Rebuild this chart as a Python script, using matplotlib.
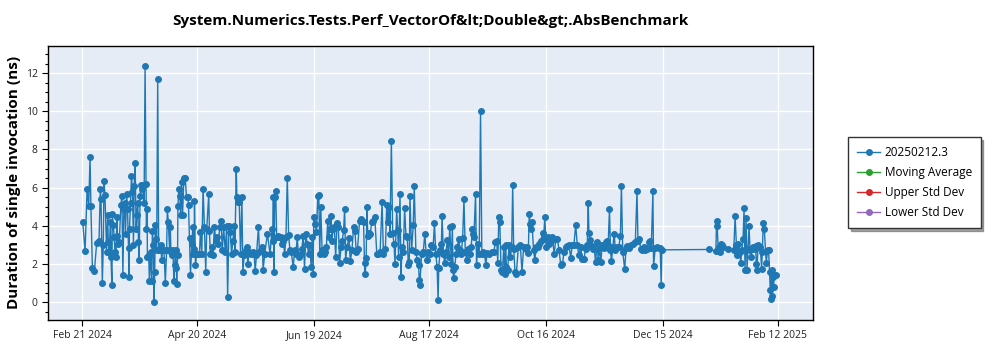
import datetime as dt
import matplotlib
matplotlib.use("Agg")
import matplotlib.pyplot as plt
import matplotlib.dates as mdates
from matplotlib.ticker import MultipleLocator

# (days after Feb 21 2024, duration in ns)
feb_apr = [(0.34, 4.18), (1.53, 2.67), (2.55, 5.92), (3.4, 5.05), (4.08, 7.62), (4.5, 5.05), (5.27, 1.81),
           (6.29, 1.61), (7.48, 3.11), (8.67, 3.2), (9.35, 5.95), (9.69, 5.43), (10.37, 1.02), (10.88, 3.0),
           (11.22, 6.35), (11.73, 5.61), (12.58, 2.64), (13.1, 4.57), (13.44, 3.14), (13.95, 2.64), (14.46, 4.18),
           (14.8, 2.36), (15.31, 0.88), (15.48, 4.62), (15.99, 4.02), (16.5, 3.4), (16.84, 2.64), (17.35, 2.36),
           (17.86, 4.45), (18.03, 3.49), (18.54, 3.06), (19.05, 3.14), (19.9, 5.09), (20.41, 5.57), (20.92, 1.4),
           (21.43, 4.88), (21.94, 5.21), (22.28, 3.58), (22.79, 5.66), (23.3, 4.88), (23.81, 2.83), (23.98, 1.32),
           (24.32, 3.83), (24.83, 5.21), (25.34, 6.61), (25.85, 5.75), (26.36, 2.99), (26.7, 6.09), (27.21, 7.28),
           (27.72, 3.83), (28.06, 4.57), (28.57, 5.21), (28.91, 3.14), (29.25, 2.19), (29.76, 5.57), (30.1, 6.12),
           (30.61, 5.92), (31.29, 6.12), (31.8, 5.21), (32.31, 12.38), (32.82, 6.18), (32.99, 3.83), (33.33, 4.88),
           (33.5, 2.36), (34.18, 2.47), (34.52, 1.09), (35.2, 2.64), (35.71, 1.09), (36.05, 3.75), (36.56, 2.99),
           (36.9, 0.02), (37.24, 1.58), (37.59, 4.05), (37.76, 3.32), (38.27, 2.71), (38.78, 11.68), (39.29, 2.71),
           (39.97, 2.71), (40.48, 2.99), (40.82, 2.19), (41.33, 2.71), (42.01, 2.71), (42.69, 1.02), (43.37, 2.71),
           (43.71, 4.88), (44.22, 4.22), (44.9, 2.71), (45.24, 3.92), (45.58, 2.64), (46.09, 2.47), (46.6, 2.71),
           (47.11, 1.09), (47.45, 1.93), (47.96, 2.71), (48.3, 1.79), (48.64, 0.97), (48.98, 2.47), (49.15, 5.02),
           (49.66, 5.92), (50.17, 5.57), (50.51, 4.57), (51.02, 6.27), (51.53, 4.57), (52.21, 6.48), (52.89, 6.51),
           (53.57, 5.49), (54.25, 5.52), (54.59, 5.09), (55.1, 3.35), (55.61, 1.44), (56.29, 3.06), (56.8, 3.92),
           (56.97, 2.5), (57.48, 2.8), (57.65, 5.28), (58.16, 1.93), (58.67, 2.5), (59.35, 2.5)]

apr_jun = [(60.2, 2.53), (60.71, 3.7), (61.39, 2.53), (62.07, 5.95), (62.76, 3.92), (63.44, 1.58), (63.95, 3.84),
           (64.97, 5.66), (65.31, 3.75), (65.82, 2.53), (66.5, 2.88), (67.18, 2.45), (67.86, 3.96), (68.54, 3.23),
           (69.22, 3.4), (69.9, 3.06), (70.58, 3.92), (71.26, 4.27), (71.94, 2.71), (72.62, 3.92), (73.47, 2.62),
           (74.15, 4.01), (74.66, 0.28), (75.34, 4.01), (76.02, 3.66), (76.7, 2.53), (77.38, 3.23), (78.06, 4.01),
           (78.4, 2.62), (79.08, 7.0), (79.42, 5.49), (79.93, 5.23), (80.61, 5.23), (81.29, 2.53), (81.97, 5.49),
           (82.48, 1.58), (83.16, 2.45), (84.01, 2.71), (84.52, 2.88), (85.03, 2.01), (85.71, 2.62), (86.56, 2.53),
           (87.59, 2.62), (88.27, 2.53), (88.78, 1.63), (89.46, 2.45), (90.48, 3.96), (90.99, 2.62), (91.84, 2.71),
           (92.52, 2.88), (92.86, 1.7), (93.71, 2.53), (95.07, 3.58), (96.43, 2.53), (97.45, 3.84), (97.79, 3.23),
           (98.13, 5.49), (98.47, 1.58), (98.81, 5.49), (99.32, 5.83), (99.83, 3.4), (100.51, 3.49), (101.19, 3.44),
           (101.87, 3.4), (102.55, 3.06), (103.23, 3.23), (103.91, 2.53), (104.59, 3.4), (105.27, 6.53),
           (105.95, 3.54), (106.63, 2.71), (107.31, 2.62), (108.33, 1.84), (109.01, 2.71), (109.69, 2.53),
           (110.37, 3.4), (111.05, 2.36), (112.07, 2.53), (112.76, 2.8), (113.44, 3.49), (114.12, 1.75), (114.8, 3.58),
           (115.48, 3.06), (116.16, 2.53), (116.84, 2.97), (117.52, 1.84), (118.03, 3.4), (118.54, 1.46),
           (118.88, 4.44), (119.56, 4.1), (120.24, 3.66), (120.92, 5.57)]

jun_aug = [(121.43, 5.61), (121.94, 2.53), (122.45, 4.97), (123.13, 2.71), (123.98, 2.53), (124.83, 2.62),
           (125.34, 2.88), (126.02, 4.27), (126.53, 3.4), (127.04, 3.84), (127.72, 4.53), (128.23, 3.23),
           (128.74, 3.84), (129.42, 3.92), (130.1, 2.36), (130.78, 4.13), (131.46, 3.92), (132.14, 2.05),
           (132.82, 2.88), (133.5, 3.23), (134.18, 3.78), (134.69, 4.88), (135.2, 2.22), (135.88, 2.88),
           (136.9, 3.37), (137.59, 2.14), (138.44, 2.71), (139.29, 3.92), (139.97, 3.75), (140.65, 2.62),
           (141.33, 2.8), (142.35, 4.27), (143.03, 4.36), (143.71, 4.27), (144.39, 4.18), (144.9, 2.05),
           (145.24, 1.46), (145.75, 2.33), (146.09, 5.0), (146.6, 3.49), (147.28, 3.61), (147.79, 3.58),
           (148.64, 4.18), (149.49, 4.27), (150.17, 4.48), (151.19, 2.53), (152.04, 2.53), (152.89, 2.62),
           (153.91, 5.23), (154.59, 2.53), (155.61, 2.8), (156.29, 5.09), (156.97, 4.18), (157.48, 5.0),
           (157.99, 3.58), (158.67, 8.44), (159.35, 3.61), (160.03, 3.06), (160.54, 2.01), (161.39, 4.88),
           (161.9, 3.78), (162.41, 2.36), (163.1, 5.66), (163.61, 1.32), (164.12, 2.88), (164.8, 2.62),
           (165.48, 4.93), (166.16, 3.49), (166.84, 3.4), (167.35, 1.93), (167.86, 2.1), (168.2, 5.57),
           (169.05, 2.71), (169.9, 4.06), (170.41, 6.09), (171.26, 2.62), (171.94, 2.22), (172.62, 1.93),
           (172.96, 1.15), (173.3, 0.89), (174.15, 2.53), (175.0, 2.62), (175.85, 3.58), (176.7, 2.22),
           (177.55, 2.62), (178.4, 2.53), (179.25, 3.02), (180.1, 2.88), (180.78, 4.13), (181.46, 2.53),
           (182.14, 1.84)]

aug_oct = [(182.65, 0.1), (182.99, 1.81), (183.67, 2.71), (184.35, 3.06), (184.69, 4.5), (185.37, 2.53),
           (186.05, 2.05), (186.73, 2.62), (187.41, 3.26), (188.1, 2.36), (188.61, 3.96), (189.46, 2.01),
           (189.97, 3.99), (190.31, 1.67), (190.65, 1.28), (191.16, 1.84), (191.84, 2.53), (192.52, 2.88),
           (193.2, 3.32), (193.88, 2.71), (194.56, 2.53), (195.24, 3.37), (195.92, 5.4), (196.6, 2.62),
           (197.28, 2.22), (197.96, 2.8), (198.81, 2.53), (199.66, 2.88), (200.17, 3.84), (200.68, 3.58),
           (201.02, 3.4), (201.87, 5.66), (202.38, 1.93), (203.06, 3.06), (203.74, 2.53), (204.42, 10.0),
           (205.1, 2.53), (205.78, 2.62), (206.46, 2.53), (207.14, 1.96), (207.82, 2.57), (209.01, 2.53),
           (210.2, 2.62), (211.22, 2.62), (212.07, 3.14), (212.76, 3.19), (213.27, 2.05), (213.78, 4.44),
           (214.29, 4.18), (214.97, 1.67), (215.65, 1.58), (216.33, 2.88), (216.84, 1.49), (217.35, 3.02),
           (217.69, 1.84), (218.37, 1.67), (219.05, 3.02), (219.73, 2.36), (220.41, 2.88), (220.92, 6.13),
           (221.43, 2.8), (222.11, 1.58), (222.79, 1.49), (223.81, 2.88), (224.83, 3.02), (225.68, 1.58),
           (226.53, 2.88), (227.55, 2.8), (228.23, 2.88), (228.91, 2.57), (229.42, 4.62), (229.93, 4.1),
           (230.27, 3.84), (230.78, 4.18), (231.63, 2.71), (232.31, 2.22), (232.99, 2.88), (233.67, 2.88),
           (234.52, 3.06), (235.37, 3.23), (236.22, 3.61), (236.73, 3.32), (237.41, 4.44), (238.1, 2.88),
           (238.78, 3.4), (239.63, 3.06), (240.48, 3.23), (241.33, 3.4), (242.18, 2.5), (243.03, 3.32)]

oct_dec = [(243.88, 3.31), (244.73, 2.71), (245.58, 1.93), (246.43, 2.01), (247.28, 2.62), (248.13, 2.88),
           (248.98, 2.92), (249.83, 2.97), (250.68, 2.33), (251.53, 3.02), (252.38, 3.02), (253.23, 4.06),
           (254.08, 2.97), (254.93, 2.45), (255.78, 2.88), (256.63, 2.26), (257.48, 2.26), (258.33, 2.8),
           (259.18, 2.97), (259.69, 5.19), (260.03, 3.63), (260.54, 3.28), (261.39, 2.92), (262.07, 2.8),
           (262.76, 2.85), (263.44, 2.1), (264.29, 3.14), (264.8, 2.19), (265.48, 2.85), (266.16, 2.1),
           (266.84, 3.02), (267.69, 2.85), (268.54, 3.14), (269.22, 3.23), (269.9, 2.97), (270.58, 4.88),
           (271.09, 2.71), (271.6, 2.15), (272.28, 2.88), (272.96, 3.58), (273.64, 2.71), (274.49, 2.88),
           (275.34, 2.88), (276.19, 3.47), (276.7, 6.09), (277.38, 2.62), (278.4, 1.72), (279.08, 2.85),
           (279.76, 2.92), (280.78, 2.85), (281.8, 3.02), (282.82, 3.06), (283.84, 3.14), (284.69, 5.8),
           (285.2, 3.23), (285.88, 3.31), (286.56, 2.8), (287.24, 2.74), (288.1, 2.88), (288.95, 2.71),
           (289.8, 2.8), (290.65, 3.14), (291.33, 3.23), (292.01, 2.85), (292.86, 5.8), (293.2, 1.88),
           (294.05, 2.85), (294.9, 2.88), (295.75, 2.85), (296.6, 2.85), (297.11, 0.89), (297.45, 2.74)]

jan_feb = [(321.6, 2.76), (325.17, 2.67), (325.51, 4.27), (325.85, 4.01), (326.36, 2.71), (326.87, 2.88),
           (327.21, 2.62), (327.72, 3.06), (328.23, 2.97), (328.91, 2.88), (331.46, 2.8), (334.35, 2.71),
           (335.03, 4.51), (335.71, 2.97), (336.22, 2.45), (336.73, 3.06), (337.41, 2.62), (337.92, 2.05),
           (338.44, 2.71), (339.12, 3.32), (339.63, 4.91), (340.14, 1.7), (340.65, 4.41), (341.16, 1.7),
           (341.67, 2.8), (342.18, 3.98), (342.69, 2.71), (343.2, 2.36), (343.71, 2.8), (344.22, 2.88),
           (345.07, 2.8), (345.58, 2.92), (345.92, 1.98), (346.26, 1.7), (346.77, 2.97), (347.28, 2.88),
           (347.96, 2.88), (348.64, 1.75), (348.98, 2.62), (349.49, 4.13), (350.0, 3.84), (350.68, 2.67),
           (351.02, 2.05), (351.7, 2.71), (352.21, 2.71), (352.72, 1.58), (353.06, 0.63), (353.4, 0.14),
           (353.74, 1.7), (354.08, 0.31), (354.42, 1.32), (354.76, 0.8), (355.1, 1.41), (355.78, 1.41)]

tick_labels = ["Feb 21 2024", "Apr 20 2024", "Jun 19 2024", "Aug 17 2024",
               "Oct 16 2024", "Dec 15 2024", "Feb 12 2025"]
series_name = "20250212.3"
legend_names = ["Moving Average", "Upper Std Dev", "Lower Std Dev"]

start = dt.datetime(2024, 2, 21)
points = feb_apr + apr_jun + jun_aug + aug_oct + oct_dec + jan_feb
dates = [start + dt.timedelta(days=d) for d, v in points]
values = [v for d, v in points]
tick_dates = [dt.datetime.strptime(t, "%b %d %Y") for t in tick_labels]

plt.rcParams["font.family"] = ["Open Sans", "DejaVu Sans"]

fig = plt.figure(figsize=(10, 3.5), dpi=100)
ax = fig.add_axes([0.048, 0.086, 0.765, 0.783])
ax.set_facecolor("#E5ECF6")

line, = ax.plot(dates, values, color="#1f77b4", lw=1.0, marker="o", ms=4, mec="#1f77b4")

ax.set_xlim(start - dt.timedelta(days=17.5), start + dt.timedelta(days=375))
ax.set_ylim(-0.93, 13.43)
ax.set_xticks(tick_dates)
ax.xaxis.set_major_formatter(mdates.DateFormatter("%b %d %Y"))
ax.yaxis.set_major_locator(MultipleLocator(2))
ax.yaxis.set_minor_locator(MultipleLocator(0.5))
ax.tick_params(axis="both", labelsize=7.5, length=4, width=0.8, labelcolor="#222222")
ax.tick_params(axis="y", which="minor", length=2, width=0.8)
ax.grid(True, color="white", lw=1)
ax.set_axisbelow(True)
for s in ax.spines.values():
    s.set_color("black")
    s.set_linewidth(1)

ax.set_title("System.Numerics.Tests.Perf_VectorOf&lt;Double&gt;.AbsBenchmark",
             fontsize=11, fontweight="bold", pad=15)
ax.set_ylabel("Duration of single invocation (ns)", fontsize=11, fontweight="bold", labelpad=3)

handles = [line]
for name, c in zip(legend_names, ["#2ca02c", "#d62728", "#9467bd"]):
    h, = ax.plot([], [], color=c, lw=1.0, marker="o", ms=4)
    handles.append(h)
leg = ax.legend(handles, [series_name] + legend_names, loc="upper left",
                bbox_to_anchor=(0.848, 0.609), bbox_transform=fig.transFigure,
                borderaxespad=0, fancybox=False, shadow=True, framealpha=1, edgecolor="#333333",
                fontsize=8.5, handlelength=2.0, handletextpad=0.35, borderpad=0.75, labelspacing=0.6)
leg.get_frame().set_linewidth(1)

fig.savefig("out.png", dpi=100)
